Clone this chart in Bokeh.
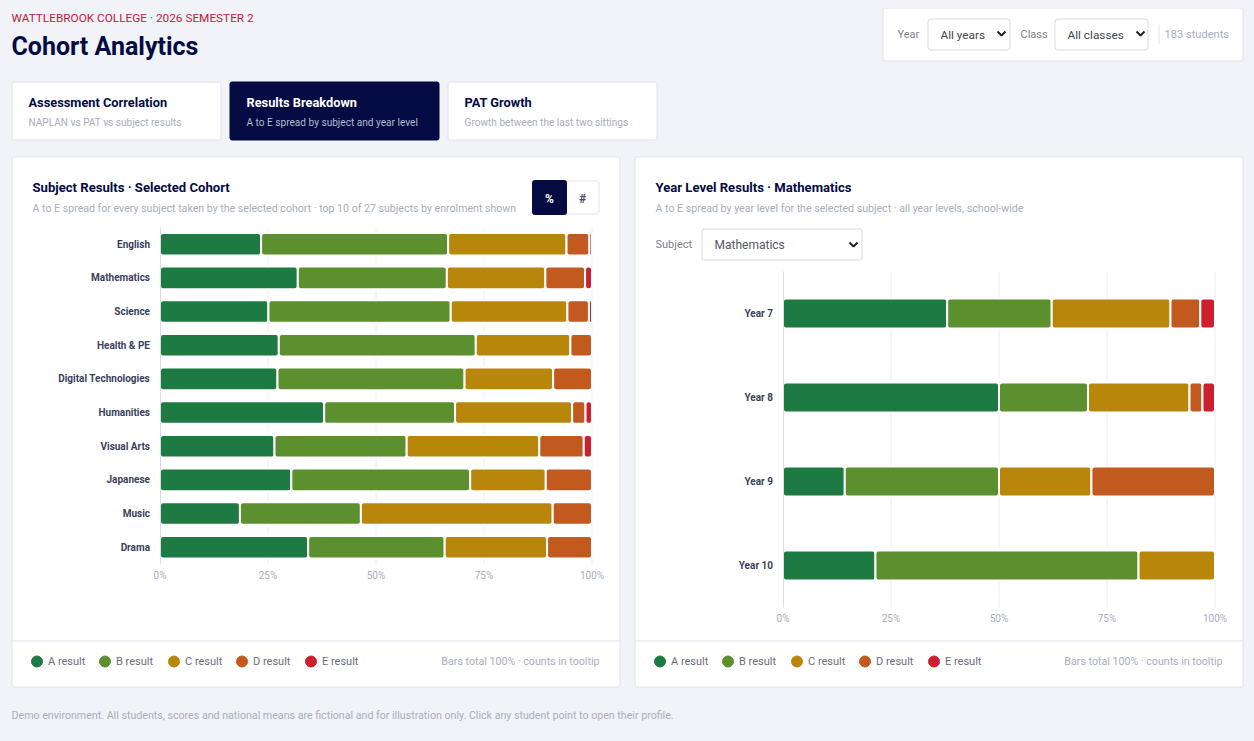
from bokeh.embed import file_html
from bokeh.resources import INLINE
from bokeh.plotting import figure
from bokeh.models import (Range1d, LinearAxis, FixedTicker, Label, GlobalInlineStyleSheet,
                          ColumnDataSource)

# ---------- data ----------
GRADES = ["A result", "B result", "C result", "D result", "E result"]
COLORS = ["#1D7A43", "#5C8F2E", "#B8860B", "#C25A20", "#CE1F2F"]
SUBJECTS = ["English", "Mathematics", "Science", "Health & PE", "Digital Technologies",
            "Humanities", "Visual Arts", "Japanese", "Music", "Drama"]
SUBJ_A = [23.4, 31.9, 25.1, 27.5, 27.2, 38.0, 26.5, 30.4, 18.5, 34.3]
SUBJ_B = [43.3, 34.5, 42.2, 45.6, 43.3, 30.3, 30.6, 41.4, 28.0, 31.6]
SUBJ_C = [27.4, 22.8, 27.0, 21.9, 20.5, 27.1, 30.7, 17.5, 44.4, 23.7]
SUBJ_D = [5.3, 9.2, 5.0, 5.0, 9.0, 3.1, 10.3, 10.7, 9.1, 10.4]
SUBJ_E = [0.6, 1.6, 0.7, 0.0, 0.0, 1.5, 1.9, 0.0, 0.0, 0.0]
YEARS = ["Year 7", "Year 8", "Year 9", "Year 10"]
YEAR_A = [38.0, 50.0, 14.3, 21.4]
YEAR_B = [24.2, 20.6, 35.7, 60.9]
YEAR_C = [27.5, 23.5, 21.4, 17.7]
YEAR_D = [6.9, 3.0, 28.6, 0.0]
YEAR_E = [3.4, 2.9, 0.0, 0.0]
PCT_TICKS = [0, 25, 50, 75, 100]
PCT_LABELS = ["0%", "25%", "50%", "75%", "100%"]

# ---------- style ----------
FONT = "Roboto"
PAGE = "#F1F3F8"
NAVY = "#030B42"
BORDER = "#E0E3EB"
MUTED = "#A8ADBD"
W, H = 1238, 725

p = figure(width=W, height=H, output_backend="svg", toolbar_location=None,
           x_range=Range1d(8, 8 + W), y_range=Range1d(8 + H, 8),
           x_axis_location=None, y_axis_location=None, min_border=0,
           background_fill_color=PAGE, border_fill_color=PAGE, outline_line_color=None,
           stylesheets=[GlobalInlineStyleSheet(
               css=f"html,body{{background:{PAGE};overflow:hidden}} body{{padding:8px !important;margin:0}}")])
p.grid.visible = False


def box(x0, y0, x1, y1, fill="#FFFFFF", line=BORDER, r=2):
    p.quad(left=[x0], right=[x1], top=[y0], bottom=[y1], fill_color=fill, line_color=line,
           line_width=1, border_radius=r)


def text(x, y, s, size, color, bold=False, align="left"):
    p.add_layout(Label(x=x, y=y, text=s, text_font=FONT, text_font_size=f"{size}px", text_color=color,
                       text_font_style="bold" if bold else "normal",
                       text_align=align, text_baseline="middle"))


def chevron(x, y):
    p.line([x - 4, x, x + 4], [y - 2, y + 2, y - 2], line_color="#222222", line_width=2)


# header
text(11, 17, "WATTLEBROOK COLLEGE · 2026 SEMESTER 2", 11.8, "#C2203A")
text(11, 46, "Cohort Analytics", 25, NAVY, True)

# tabs
TABS = [("Assessment Correlation", "NAPLAN vs PAT vs subject results"),
        ("Results Breakdown", "A to E spread by subject and year level"),
        ("PAT Growth", "Growth between the last two sittings")]
for i, (a, b) in enumerate(TABS):
    x = 11.5 + i * 218
    active = i == 1
    box(x, 81.5, x + 209, 139.5, NAVY if active else "#FFFFFF", NAVY if active else BORDER)
    text(x + 16.5, 101.5, a, 12.8, "#FFFFFF" if active else NAVY, True)
    text(x + 16.5, 122, b, 10.1, "#B4BAD2" if active else MUTED)

# filter
box(882.5, 7.5, 1242.5, 60.5)
text(897, 34, "Year", 11, "#7C7F8C")
box(927.5, 18.5, 1009.5, 49.5, line="#D8DBE3", r=3)
text(940, 34, "All years", 11.8, "#44474F")
chevron(1001, 33)
text(1020, 34, "Class", 11, "#7C7F8C")
box(1054.5, 18.5, 1147.5, 49.5, line="#D8DBE3", r=3)
text(1067, 34, "All classes", 11.8, "#44474F")
chevron(1140, 33)
p.line([1158.5, 1158.5], [24, 44], line_color=BORDER, line_width=1)
text(1164, 34, "183 students", 11.1, MUTED)


def panel(x0, title, sub, note, labels, values, row0, pitch, band, top, bottom, px0):
    # card
    box(x0 + 0.5, 156.5, x0 + 608.5, 686.5)
    p.line([x0, x0 + 609], [640.5, 640.5], line_color=BORDER, line_width=1)
    text(x0 + 21, 187, title, 13.1, NAVY, True)
    text(x0 + 21, 208, sub, 10.6, MUTED)

    # scales: value scale and row scale are mapped onto pixels of the card
    sx = 4.32
    name_x, name_y = f"x{x0}", f"y{x0}"
    p.extra_x_ranges[name_x] = Range1d((8 - px0) / sx, (8 + W - px0) / sx)
    p.extra_y_ranges[name_y] = Range1d((8 + H - row0) / pitch, (8 - row0) / pitch)

    # gridlines
    inner = PCT_TICKS[1:]
    p.segment(x0=inner, x1=inner, y0=[top] * 4, y1=[bottom] * 4, x_range_name=name_x,
              line_color="#ECEEF2", line_width=1)

    rows = list(range(len(labels)))
    data = {"row": rows}
    data.update({g: v for g, v in zip(GRADES, values)})
    p.hbar_stack(GRADES, y="row", height=band, color=COLORS, source=ColumnDataSource(data),
                 line_color="#FFFFFF", line_width=2, border_radius=3,
                 x_range_name=name_x, y_range_name=name_y)

    xa = LinearAxis(x_range_name=name_x, fixed_location=bottom, ticker=FixedTicker(ticks=PCT_TICKS),
                    major_label_overrides=dict(zip(PCT_TICKS, PCT_LABELS)),
                    axis_line_color=None, major_tick_line_color=None, minor_tick_line_color=None,
                    major_tick_in=0, major_tick_out=0, minor_tick_in=0, minor_tick_out=0,
                    major_label_standoff=5, major_label_text_font=FONT, major_label_text_font_size="10px",
                    major_label_text_color=MUTED)
    p.add_layout(xa, "below")
    ya = LinearAxis(x_range_name=name_x, y_range_name=name_y, fixed_location=0,
                    ticker=FixedTicker(ticks=rows), major_label_overrides=dict(zip(rows, labels)),
                    bounds=(-0.5, len(labels) - 0.5),
                    axis_line_color="#D8DBE2", axis_line_width=1,
                    major_tick_line_color=None, minor_tick_line_color=None,
                    major_tick_in=0, major_tick_out=0, minor_tick_in=0, minor_tick_out=0,
                    major_label_standoff=10, major_label_text_font=FONT, major_label_text_font_size="10px",
                    major_label_text_font_style="bold", major_label_text_color="#3A3F5C")
    p.add_layout(ya, "left")

    # legend
    dots = [x0 + d - 0.5 for d in (26, 94, 163, 231, 300)]
    p.scatter(x=dots, y=[661] * 5, size=11, marker="circle", color=COLORS)
    for d, g in zip(dots, GRADES):
        text(d + 11, 661, g, 11, "#6B6E7B")
    text(x0 + 588, 661, note, 10.65, MUTED, align="right")


NOTE = "Bars total 100% · counts in tooltip"
panel(11, "Subject Results · Selected Cohort",
      "A to E spread for every subject taken by the selected cohort · top 10 of 27 subjects by enrolment shown",
      NOTE, SUBJECTS, [SUBJ_A, SUBJ_B, SUBJ_C, SUBJ_D, SUBJ_E], 243.7, 33.67, 0.67, 227, 564, 159.5)
panel(634, "Year Level Results · Mathematics",
      "A to E spread by year level for the selected subject · all year levels, school-wide",
      NOTE, YEARS, [YEAR_A, YEAR_B, YEAR_C, YEAR_D, YEAR_E], 313.0, 84.0, 0.357, 271, 607, 782.5)

# toggle
box(532.5, 180.5, 598.5, 213.5)
box(532, 180, 566, 214, NAVY, NAVY)
text(549, 198, "%", 12, "#FFFFFF", True, "center")
text(582, 198, "#", 12, "#4A4E5E", True, "center")

# subject select
text(655, 244, "Subject", 11, "#7C7F8C")
box(701.5, 228.5, 861.5, 259.5, line="#D8DBE3", r=2)
text(714, 244, "Mathematics", 12, "#55585F")
chevron(853, 244)

text(11, 715, "Demo environment. All students, scores and national means are fictional and for illustration only. "
              "Click any student point to open their profile.", 10.65, MUTED)

open("out.html", "w").write(file_html(p, INLINE))
